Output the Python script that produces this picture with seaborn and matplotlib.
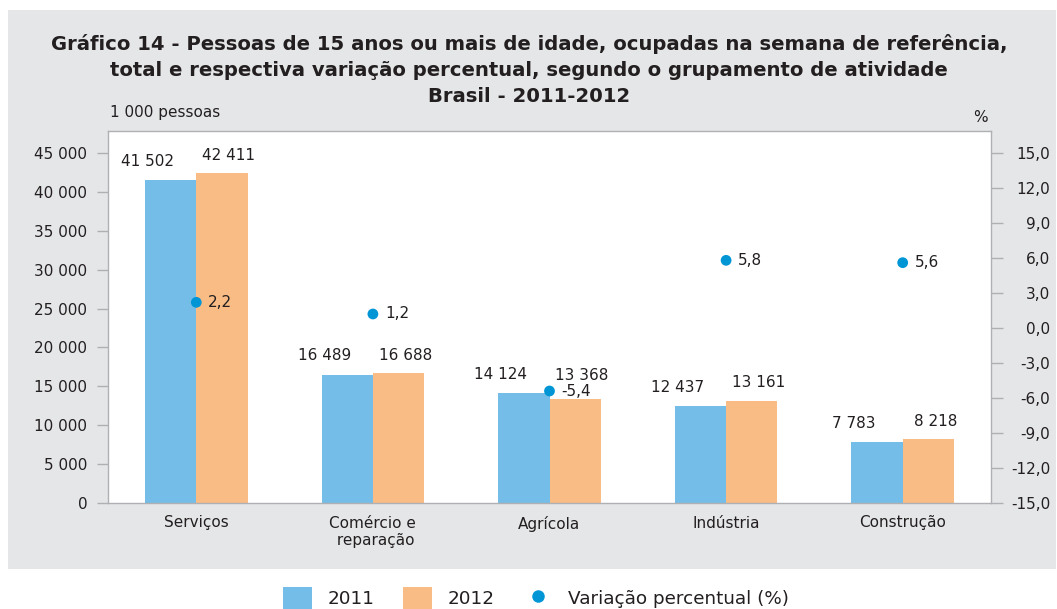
import matplotlib
matplotlib.use("Agg")
import matplotlib.pyplot as plt
import seaborn as sns
import pandas as pd
from matplotlib.patches import Rectangle, Patch
from matplotlib.lines import Line2D
from matplotlib.ticker import FixedLocator

categories = ["Serviços", "Comércio e\n reparação", "Agrícola", "Indústria", "Construção"]
values_2011 = [41502, 16489, 14124, 12437, 7783]
values_2012 = [42411, 16688, 13368, 13161, 8218]
variation = [2.2, 1.2, -5.4, 5.8, 5.6]
left_ticks = [0, 5000, 10000, 15000, 20000, 25000, 30000, 35000, 40000, 45000]
right_ticks = [-15, -12, -9, -6, -3, 0, 3, 6, 9, 12, 15]

BLUE = "#74bde8"
ORANGE = "#f9bc85"
DOT = "#0096d6"
BG = "#e5e6e8"
TXT = "#231f20"
GRID = "#aeb0b3"

sns.set_theme(style="white")
plt.rcParams["font.family"] = ["DejaVu Sans"]

def fmt_int(v):
    return f"{v:,}".replace(",", " ")

def fmt_pct(v):
    return f"{v:.1f}".replace(".", ",")

df = pd.DataFrame({
    "cat": categories * 2,
    "ano": ["2011"] * 5 + ["2012"] * 5,
    "val": values_2011 + values_2012,
})

fig = plt.figure(figsize=(10.57, 6.09), dpi=100, facecolor="white")
fig.patches.append(Rectangle((8 / 1057, 1 - 569 / 609), 1048 / 1057, 559 / 609,
                             transform=fig.transFigure, facecolor=BG, edgecolor="none", zorder=-10))

ax = fig.add_axes([108 / 1057, 1 - 503 / 609, 883 / 1057, 372 / 609])
sns.barplot(data=df, x="cat", y="val", hue="ano", palette=[BLUE, ORANGE],
            width=0.58, saturation=1, dodge=True, ax=ax, legend=False, zorder=2,
            linewidth=0, edgecolor="none")
ax.set_xlim(-0.5, 4.5)
ymax = 45000 * 372 / 350
ax.set_ylim(0, ymax)
ax.yaxis.set_major_locator(FixedLocator(left_ticks))
ax.set_yticklabels([fmt_int(t) for t in left_ticks])
ax.set_xlabel("")
ax.set_ylabel("")
ax.set_facecolor("white")
for s in ["top", "right", "left", "bottom"]:
    ax.spines[s].set_color(GRID)
    ax.spines[s].set_linewidth(1.0)
ax.tick_params(axis="y", length=8, color=GRID, width=1, labelsize=11, labelcolor=TXT, pad=7, left=True)
ax.tick_params(axis="x", length=0, labelsize=11, labelcolor=TXT, pad=9)

# bar value labels
bars = ax.patches
for i in range(5):
    b1 = bars[i]
    b2 = bars[i + 5]
    x1 = b1.get_x() + b1.get_width() / 2
    x2 = b2.get_x() + b2.get_width() / 2
    y2 = max(values_2011[i], values_2012[i])
    ax.annotate(fmt_int(values_2011[i]), (x1, values_2011[i]), xytext=(-23, 19), textcoords="offset pixels",
                ha="center", va="center", fontsize=11, color=TXT)
    ax.annotate(fmt_int(values_2012[i]), (x2, y2), xytext=(7, 18), textcoords="offset pixels",
                ha="center", va="center", fontsize=11, color=TXT)

ax2 = ax.twinx()
ax2.set_ylim(-15, -15 + 30 * 372 / 350)
ax2.yaxis.set_major_locator(FixedLocator(right_ticks))
ax2.set_yticklabels([fmt_pct(t) for t in right_ticks])
ax2.tick_params(axis="y", length=8.5, color=GRID, width=1, labelsize=11, labelcolor=TXT, pad=34, right=True)
for lab in ax2.get_yticklabels():
    lab.set_horizontalalignment("right")
for s in ["top", "right", "left", "bottom"]:
    ax2.spines[s].set_visible(False)
ax2.grid(False)
sns.scatterplot(x=list(range(5)), y=variation, ax=ax2, color=DOT, s=60, edgecolor="none", zorder=5)
for i, v in enumerate(variation):
    ax2.annotate(fmt_pct(v), (i, v), xytext=(12, 0), textcoords="offset pixels",
                 ha="left", va="center", fontsize=11, color=TXT)

fig.text(110 / 1057, 1 - 113 / 609, "1 000 pessoas", ha="left", va="center", fontsize=11, color=TXT)
fig.text(980 / 1057, 1 - 118 / 609, "%", ha="center", va="center", fontsize=11, color=TXT)

title = ("Gráfico 14 - Pessoas de 15 anos ou mais de idade, ocupadas na semana de referência,\n"
         "total e respectiva variação percentual, segundo o grupamento de atividade\n"
         "Brasil - 2011-2012")
fig.text(529 / 1057, 1 - 70 / 609, title, ha="center", va="center", fontsize=14.1,
         fontweight="bold", color=TXT, linespacing=1.45)

handles = [Patch(facecolor=BLUE, edgecolor="none"), Patch(facecolor=ORANGE, edgecolor="none"),
           Line2D([], [], marker="o", color="none", markerfacecolor=DOT, markeredgecolor="none", markersize=9)]
fig.legend(handles, ["2011", "2012", "Variação percentual (%)"], loc="center",
           bbox_to_anchor=(536 / 1057, 1 - 598 / 609), ncol=3, frameon=False, fontsize=13.2,
           handlelength=1.55, handleheight=1.4, columnspacing=1.6, handletextpad=0.85,
           labelcolor=TXT, borderaxespad=0, borderpad=0)

fig.savefig("out.png", dpi=100, facecolor="white")
